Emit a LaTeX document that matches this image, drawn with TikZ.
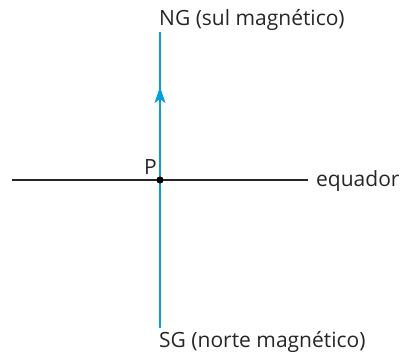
\documentclass[tikz,border=0pt]{standalone}
\usepackage{fontspec}
\setmainfont{Open Sans}
\usetikzlibrary{arrows.meta}
\definecolor{azul}{RGB}{0,160,228}
\tikzset{
  rotulo/.style={inner sep=0pt, font=\fontsize{21}{23}\selectfont, text=black!85},
}
\begin{document}
\begin{tikzpicture}[x=1pt,y=-1pt]
    % --- moldura ---
    \useasboundingbox (0,0) rectangle (405,355);
    % --- pontos ---
    \coordinate (N) at (160,32);
    \coordinate (S) at (160,328);
    \coordinate (W) at (12,180);
    \coordinate (E) at (308,180);
    \node[circle, fill=black, inner sep=0pt, minimum size=7pt] (P) at (160,180) {};
    % --- equador ---
    \draw[line width=1.3pt, black!85] (W) -- (E);
    % --- meridiano ---
    \draw[line width=1.8pt, azul] (S) -- (N);
    \draw[azul, line width=1.8pt, -{Stealth[length=16pt, width=11pt, inset=4pt]}] (160,110) -- (160,87);
    \node[circle, fill=black, inner sep=0pt, minimum size=7pt] at (P) {};
    % --- rotulos ---
    \node[rotulo, anchor=base west] (ng) at (159,26) {NG (sul magnético)};
    \node[rotulo, anchor=base west] (sg) at (159,348) {SG (norte magnético)};
    \node[rotulo, anchor=west] (eq) at (316,181) {equador};
    \node[rotulo, anchor=base east] (p) at (157,175) {P};
\end{tikzpicture}
\end{document}
